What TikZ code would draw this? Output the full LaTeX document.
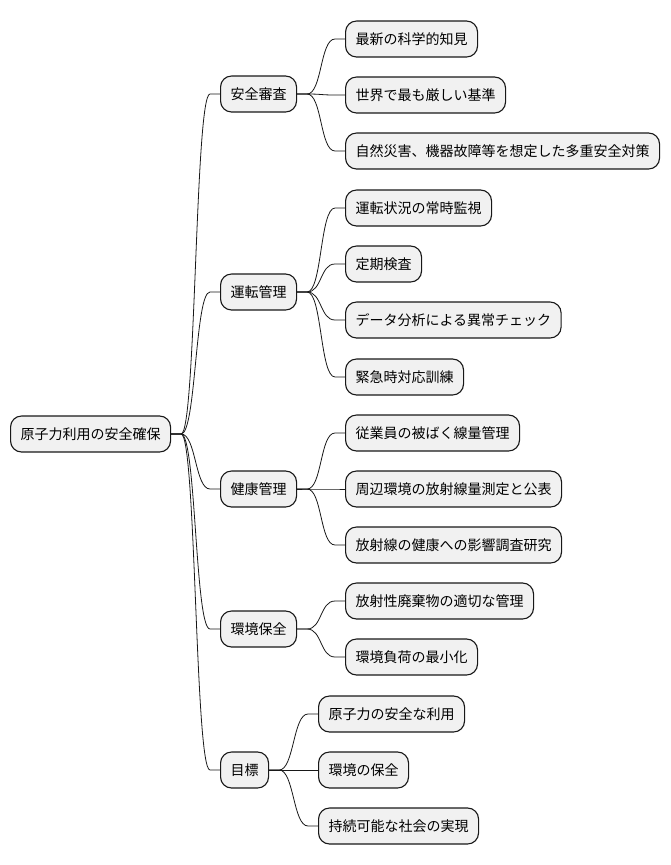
\documentclass[tikz,border=0pt]{standalone}
\usepackage{fontspec}
\setmainfont{Noto Sans CJK JP}
\usetikzlibrary{calc}
\definecolor{nodefill}{HTML}{F1F1F1}
\definecolor{nodeline}{HTML}{181818}

\begin{document}
\begin{tikzpicture}[x=1pt,y=-1pt,
  n/.style={draw=nodeline,fill=nodefill,line width=1.1pt,rounded corners=11pt,anchor=west,minimum height=36pt,inner xsep=10pt,font=\fontsize{14}{16}\selectfont},
  c/.style={draw=nodeline,line width=0.8pt}]
\useasboundingbox (0,0) rectangle (670,865);
% root and first level
\node[n] (root) at (10,434) {原子力利用の安全確保};
\node[n] (shinsa) at (220,94) {安全審査};
\node[n] (unten) at (220,292) {運転管理};
\node[n] (kenko) at (220,489) {健康管理};
\node[n] (kankyo) at (220,629) {環境保全};
\node[n] (mokuhyo) at (220,770) {目標};
% leaves
\node[n] (s1) at (345,39) {最新の科学的知見};
\node[n] (s2) at (345,95) {世界で最も厳しい基準};
\node[n] (s3) at (345,151) {自然災害、機器故障等を想定した多重安全対策};
\node[n] (u1) at (345,208) {運転状況の常時監視};
\node[n] (u2) at (345,264) {定期検査};
\node[n] (u3) at (345,320) {データ分析による異常チェック};
\node[n] (u4) at (345,377) {緊急時対応訓練};
\node[n] (k1) at (345,433) {従業員の被ばく線量管理};
\node[n] (k2) at (345,489) {周辺環境の放射線量測定と公表};
\node[n] (k3) at (345,545) {放射線の健康への影響調査研究};
\node[n] (e1) at (345,601) {放射性廃棄物の適切な管理};
\node[n] (e2) at (345,657) {環境負荷の最小化};
\node[n] (m1) at (318,714) {原子力の安全な利用};
\node[n] (m2) at (318,770) {環境の保全};
\node[n] (m3) at (318,826) {持続可能な社会の実現};
% branches
\foreach \a/\b in {root/shinsa,root/unten,root/kenko,root/kankyo,root/mokuhyo,
  shinsa/s1,shinsa/s2,shinsa/s3,unten/u1,unten/u2,unten/u3,unten/u4,
  kenko/k1,kenko/k2,kenko/k3,kankyo/e1,kankyo/e2,mokuhyo/m1,mokuhyo/m2,mokuhyo/m3}
  \draw[c] (\a.east) -- ++(10,0) .. controls +(15,0) and +(-15,0) .. ($(\b.west)+(-10,0)$) -- (\b.west);
\end{tikzpicture}
\end{document}
